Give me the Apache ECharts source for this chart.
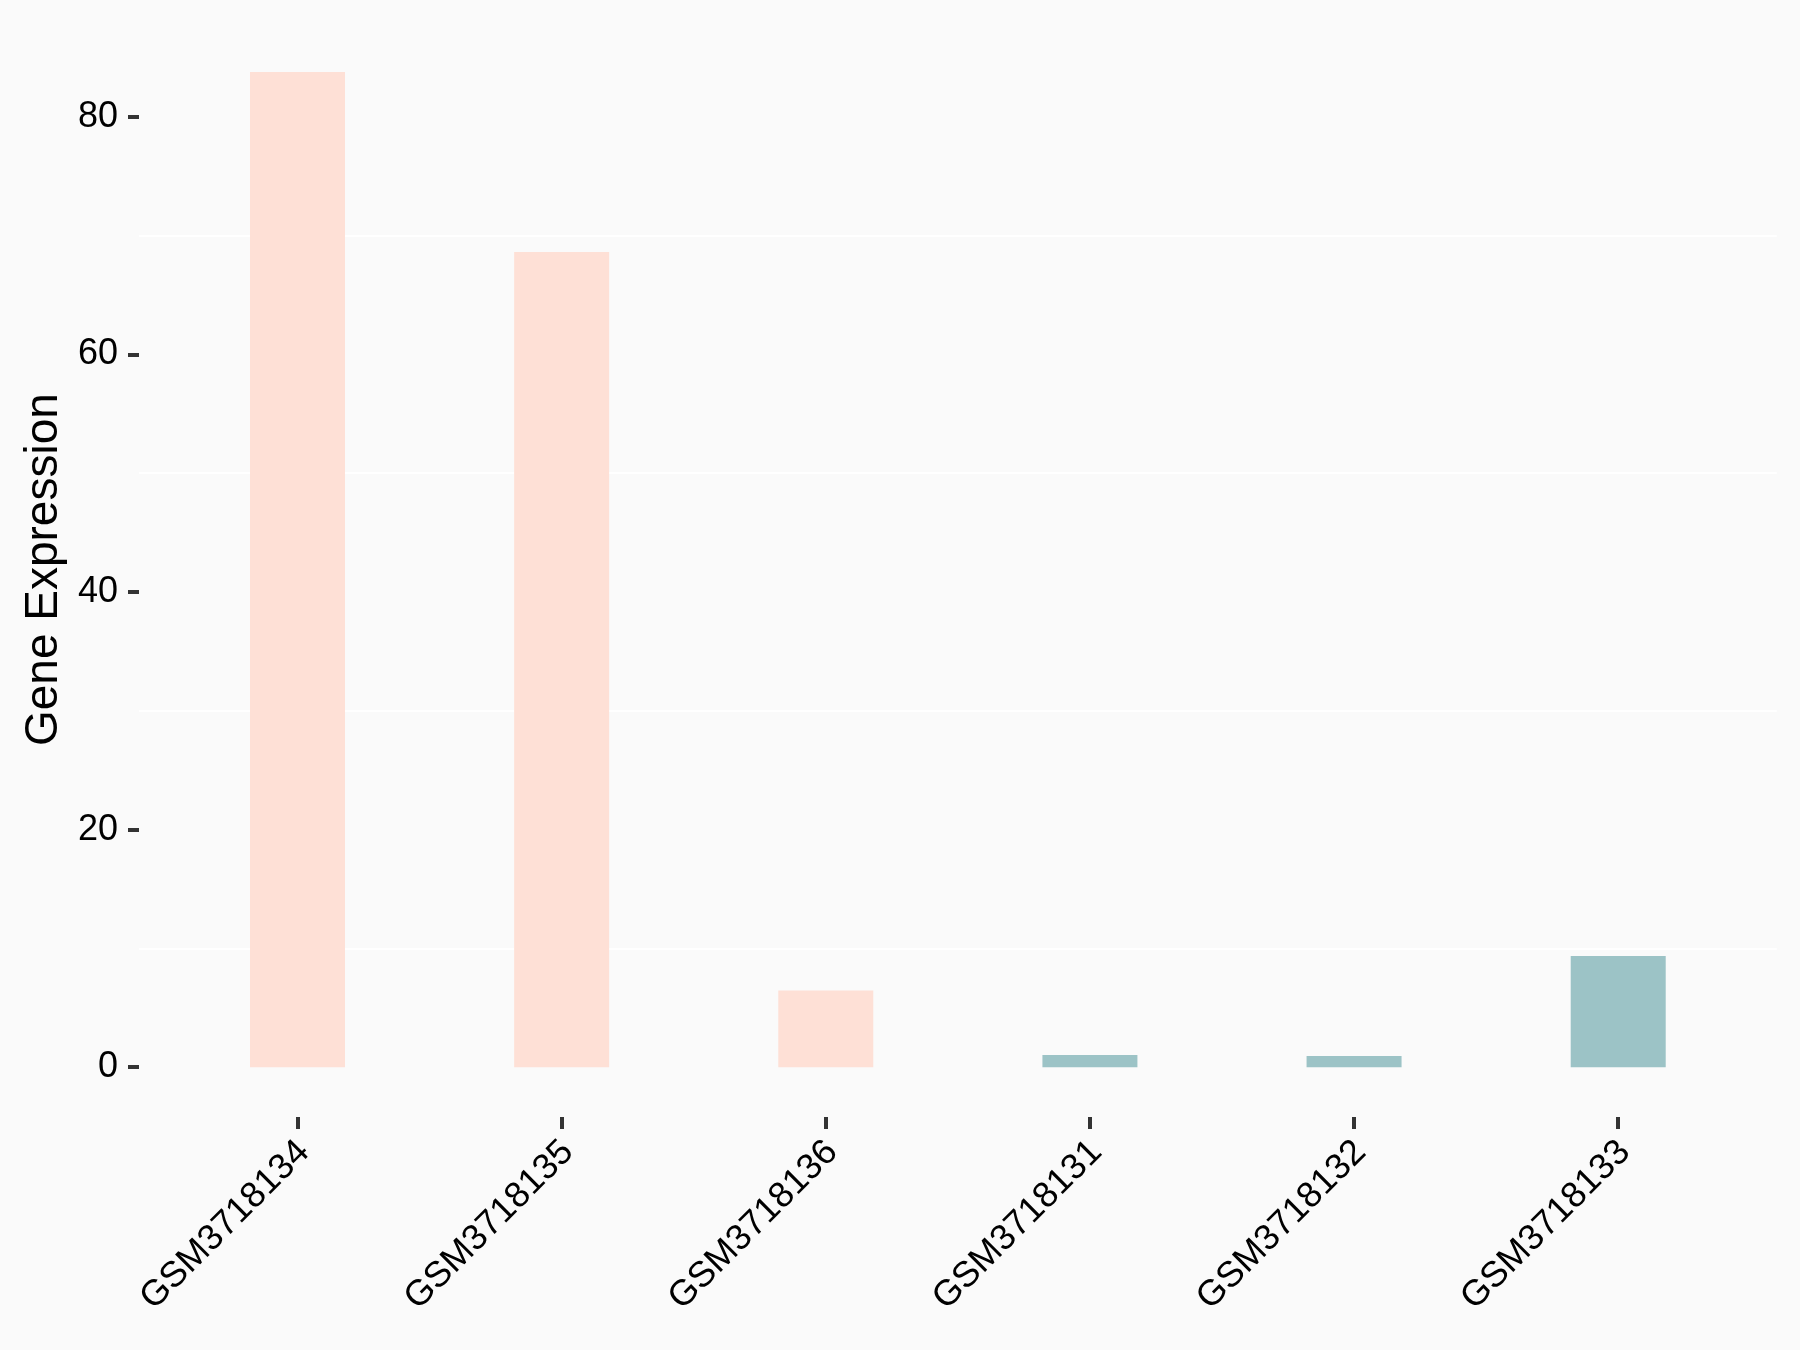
<!DOCTYPE html>
<html>
<head>
<meta charset="utf-8">
<script src="https://cdn.jsdelivr.net/npm/echarts@6/dist/echarts.min.js"></script>
<style>
html,body{margin:0;padding:0;background:#FAFAFA;}
#chart{width:1800px;height:1350px;}
</style>
</head>
<body>
<div id="chart"></div>
<script>
const categories = ["GSM3718134","GSM3718135","GSM3718136","GSM3718131","GSM3718132","GSM3718133"];
const values = [83.76, 68.61, 6.46, 1.03, 0.95, 9.37];
const groups = ["A","A","A","B","B","B"];
const groupColors = {A: "#FEE0D6", B: "#9CC3C6"};
const yTicks = [0, 20, 40, 60, 80];
const yMinorGrid = [10, 30, 50, 70];

const positions = categories.map((c, i) => i + 1);
const dataMax = Math.max(...values);
const yMin = -dataMax * 0.05;
const yMax = dataMax * 1.05;

const chart = echarts.init(document.getElementById('chart'), null, {renderer: 'canvas'});
const font = "'Liberation Sans', Arial, sans-serif";
chart.setOption({
  backgroundColor: '#FAFAFA',
  animation: false,
  grid: {left: 139, right: 23.3, top: 22.2, bottom: 233, containLabel: false},
  xAxis: {
    type: 'value',
    min: 0.4,
    max: 6.6,
    axisLine: {show: false, onZero: false},
    splitLine: {show: false},
    axisTick: {show: true, length: 12, customValues: positions, lineStyle: {color: '#333333', width: 4}},
    axisLabel: {
      show: true,
      customValues: positions,
      rotate: 45,
      margin: 36,
      padding: [0, -9, 0, 0],
      fontSize: 36,
      fontFamily: font,
      color: '#000000',
      formatter: function (v) { return categories[Math.round(v) - 1]; }
    }
  },
  yAxis: {
    type: 'value',
    min: yMin,
    max: yMax,
    name: 'Gene Expression',
    nameLocation: 'middle',
    nameGap: 72,
    nameTextStyle: {fontSize: 46, fontFamily: font, color: '#000000'},
    axisLine: {show: false},
    splitLine: {show: false},
    axisTick: {show: true, length: 11, customValues: yTicks, lineStyle: {color: '#333333', width: 4}},
    axisLabel: {
      show: true,
      customValues: yTicks,
      margin: 21,
      fontSize: 36,
      fontFamily: font,
      color: '#000000'
    }
  },
  series: [{
    type: 'bar',
    barWidth: 95,
    z: 2,
    data: positions.map((p, i) => ({value: [p, values[i]], itemStyle: {color: groupColors[groups[i]]}})),
    markLine: {
      silent: true,
      z: 1,
      symbol: ['none', 'none'],
      label: {show: false},
      lineStyle: {color: '#FFFFFF', width: 2, type: 'solid'},
      emphasis: {disabled: true},
      data: yMinorGrid.map(v => ({yAxis: v}))
    }
  }]
});
</script>
</body>
</html>
